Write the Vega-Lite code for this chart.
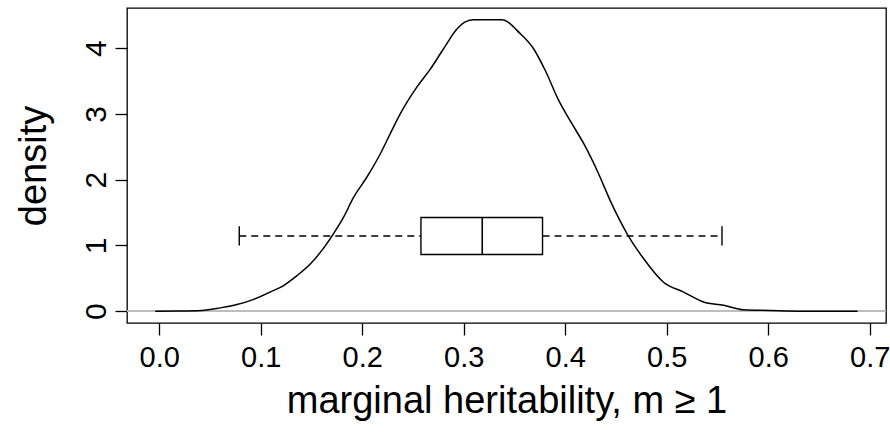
{
  "$schema": "https://vega.github.io/schema/vega-lite/v6.json",
  "width": 759,
  "height": 315,
  "autosize": {"type": "none"},
  "padding": {"left": 127, "top": 8, "right": 4, "bottom": 120},
  "background": "white",
  "config": {
    "view": {"stroke": "black", "strokeWidth": 1.3},
    "font": "Liberation Sans",
    "axis": {
      "domain": false, "grid": false, "tickColor": "black", "tickWidth": 1.3, "tickSize": 12,
      "labelColor": "black", "titleColor": "black", "labelFont": "Liberation Sans", "titleFont": "Liberation Sans",
      "titleFontWeight": "normal", "labelFlush": false, "labelOverlap": false
    }
  },
  "datasets": {
    "dens": [
      {"x": -0.004, "d": 0}, {"x": 0.02, "d": 0.002}, {"x": 0.042, "d": 0.01}, {"x": 0.06, "d": 0.05},
      {"x": 0.0765, "d": 0.10}, {"x": 0.093, "d": 0.18}, {"x": 0.109, "d": 0.29}, {"x": 0.1225, "d": 0.39},
      {"x": 0.1357, "d": 0.54}, {"x": 0.149, "d": 0.72}, {"x": 0.160, "d": 0.92}, {"x": 0.1717, "d": 1.18},
      {"x": 0.1816, "d": 1.43}, {"x": 0.1914, "d": 1.73}, {"x": 0.2046, "d": 2.04}, {"x": 0.2177, "d": 2.39},
      {"x": 0.2276, "d": 2.70}, {"x": 0.2374, "d": 3.00}, {"x": 0.2539, "d": 3.41}, {"x": 0.267, "d": 3.68},
      {"x": 0.2801, "d": 3.99}, {"x": 0.2933, "d": 4.29}, {"x": 0.3015, "d": 4.40}, {"x": 0.3097, "d": 4.43},
      {"x": 0.3376, "d": 4.43}, {"x": 0.345, "d": 4.38}, {"x": 0.3524, "d": 4.27}, {"x": 0.3688, "d": 3.99},
      {"x": 0.3803, "d": 3.66}, {"x": 0.3934, "d": 3.21}, {"x": 0.4066, "d": 2.85}, {"x": 0.4181, "d": 2.55},
      {"x": 0.4328, "d": 2.09}, {"x": 0.4443, "d": 1.68}, {"x": 0.4608, "d": 1.18}, {"x": 0.4771, "d": 0.80},
      {"x": 0.4968, "d": 0.44}, {"x": 0.5166, "d": 0.29}, {"x": 0.5362, "d": 0.14}, {"x": 0.556, "d": 0.09},
      {"x": 0.5757, "d": 0.02}, {"x": 0.602, "d": 0.01}, {"x": 0.63, "d": 0.0}, {"x": 0.688, "d": 0}
    ],
    "box": [
      {"lo": 0.0788, "q1": 0.2578, "med": 0.3182, "q3": 0.3776, "hi": 0.5544, "yc": 1.144, "ybl": 0.862, "ybh": 1.425, "ycl": 1.0, "ych": 1.29}
    ]
  },
  "layer": [
    {
      "data": {"name": "dens"},
      "mark": {"type": "rule", "color": "#bebebe", "strokeWidth": 1.5},
      "encoding": {
        "y": {"datum": 0, "type": "quantitative"}
      }
    },
    {
      "data": {"name": "dens"},
      "mark": {"type": "line", "color": "black", "strokeWidth": 1.5, "interpolate": "monotone"},
      "encoding": {
        "x": {
          "field": "x", "type": "quantitative",
          "scale": {"domain": [-0.0318, 0.716], "nice": false, "zero": false},
          "axis": {
            "values": [0, 0.1, 0.2, 0.3, 0.4, 0.5, 0.6, 0.7], "format": ".1f",
            "labelFontSize": 29, "labelPadding": 8, "labelBaseline": "top",
            "title": "marginal heritability, m ≥ 1", "titleFontSize": 38,
            "titleBaseline": "alphabetic", "titleY": 89
          }
        },
        "y": {
          "field": "d", "type": "quantitative",
          "scale": {"domain": [-0.18, 4.61], "nice": false, "zero": false},
          "axis": {
            "values": [0, 1, 2, 3, 4], "format": "d",
            "labelAngle": 270, "labelAlign": "center", "labelBaseline": "alphabetic",
            "labelPadding": 10, "labelFontSize": 30,
            "title": "density", "titleFontSize": 38, "titleAngle": 270,
            "titleBaseline": "alphabetic", "titleX": -82
          }
        }
      }
    },
    {
      "data": {"name": "box"},
      "mark": {"type": "rule", "color": "black", "strokeWidth": 1.5, "strokeDash": [7, 5]},
      "encoding": {
        "x": {"field": "lo", "type": "quantitative"},
        "x2": {"field": "q1"},
        "y": {"field": "yc", "type": "quantitative"}
      }
    },
    {
      "data": {"name": "box"},
      "mark": {"type": "rule", "color": "black", "strokeWidth": 1.5, "strokeDash": [7, 5]},
      "encoding": {
        "x": {"field": "q3", "type": "quantitative"},
        "x2": {"field": "hi"},
        "y": {"field": "yc", "type": "quantitative"}
      }
    },
    {
      "data": {"name": "box"},
      "mark": {"type": "rect", "fill": "white", "stroke": "black", "strokeWidth": 1.4},
      "encoding": {
        "x": {"field": "q1", "type": "quantitative"},
        "x2": {"field": "q3"},
        "y": {"field": "ybl", "type": "quantitative"},
        "y2": {"field": "ybh"}
      }
    },
    {
      "data": {"name": "box"},
      "mark": {"type": "rule", "color": "black", "strokeWidth": 1.6},
      "encoding": {
        "x": {"field": "med", "type": "quantitative"},
        "y": {"field": "ybl", "type": "quantitative"},
        "y2": {"field": "ybh"}
      }
    },
    {
      "data": {"name": "box"},
      "mark": {"type": "rule", "color": "black", "strokeWidth": 1.4},
      "encoding": {
        "x": {"field": "lo", "type": "quantitative"},
        "y": {"field": "ycl", "type": "quantitative"},
        "y2": {"field": "ych"}
      }
    },
    {
      "data": {"name": "box"},
      "mark": {"type": "rule", "color": "black", "strokeWidth": 1.4},
      "encoding": {
        "x": {"field": "hi", "type": "quantitative"},
        "y": {"field": "ycl", "type": "quantitative"},
        "y2": {"field": "ych"}
      }
    }
  ]
}
